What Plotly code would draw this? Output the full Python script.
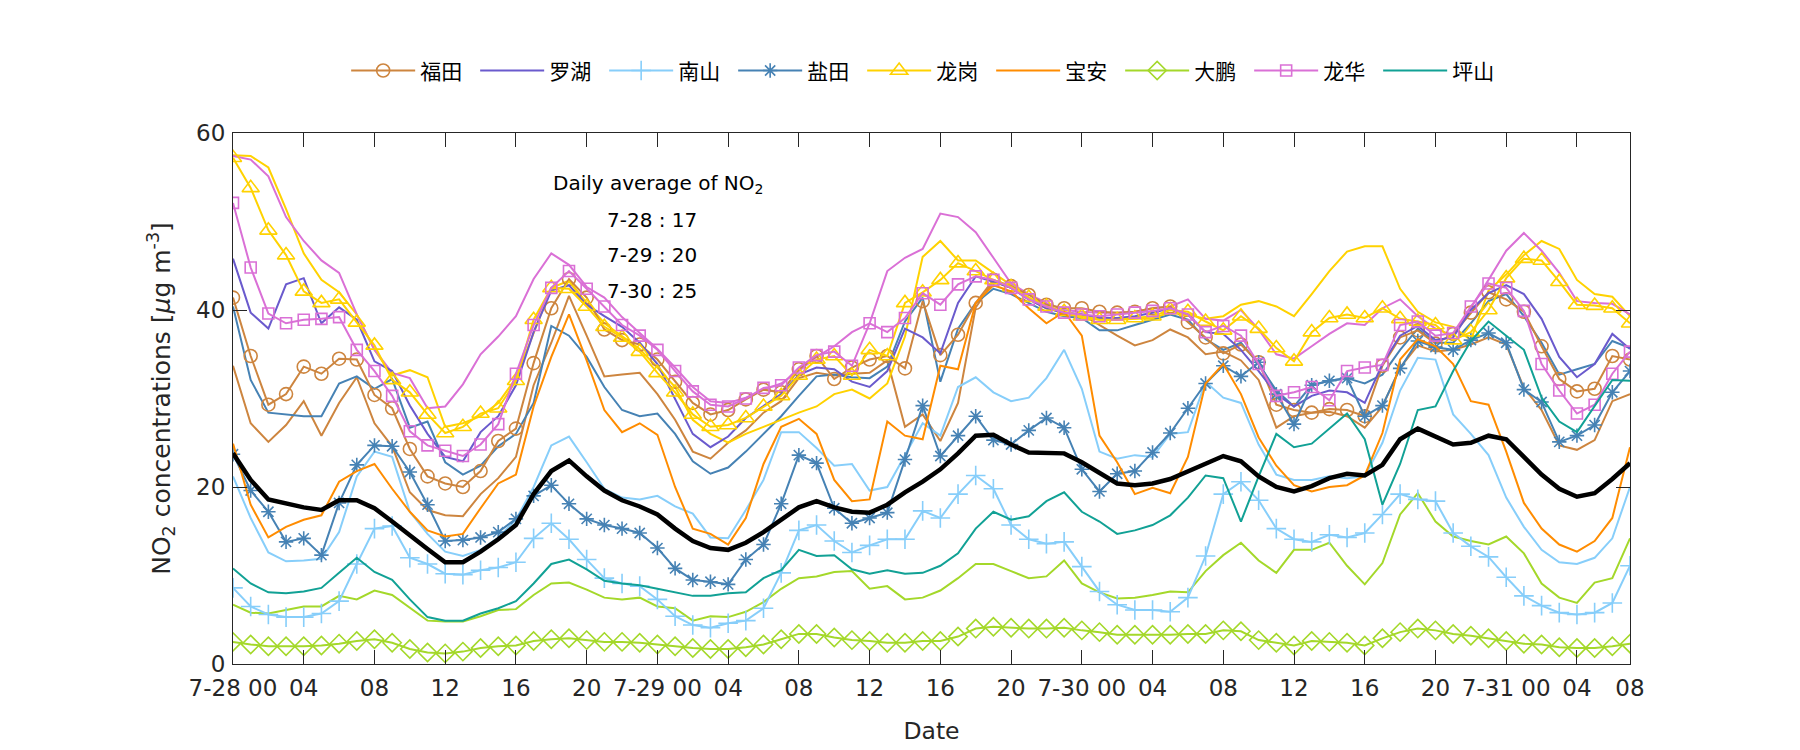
import plotly.graph_objects as go

hours = list(range(80))
tick_pos = [0, 4, 8, 12, 16, 20, 24, 28, 32, 36, 40, 44, 48, 52, 56, 60, 64, 68, 72, 76, 79]
tick_text = ["7-28 00", "04", "08", "12", "16", "20", "7-29 00", "04", "08", "12", "16", "20",
             "7-30 00", "04", "08", "12", "16", "20", "7-31 00", "04", "08"]
y_ticks = [0, 20, 40, 60]

daily_days = ["7-28", "7-29", "7-30"]
daily_vals = [17, 20, 25]

avg = [23.8,20.8,18.6,18.1,17.7,17.4,18.5,18.5,17.6,16.1,14.5,13.0,11.5,11.5,12.7,14.1,15.7,
       19.2,21.8,23.0,21.2,19.6,18.5,17.8,16.9,15.3,13.9,13.1,12.9,13.7,14.9,16.3,17.7,
       18.4,17.7,17.2,17.1,18.0,19.4,20.6,22.0,23.8,25.8,25.9,24.8,23.9,23.9,23.8,22.8,
       21.6,20.4,20.2,20.4,20.9,21.8,22.7,23.5,22.9,21.2,20.0,19.5,20.1,21.0,21.5,
       21.3,22.5,25.4,26.6,25.7,24.8,25.0,25.8,25.4,23.4,21.4,19.8,18.9,19.3,20.9,22.7]

futian = [41.4,34.8,29.3,30.5,33.6,32.8,34.5,34.4,30.4,28.9,24.3,21.2,20.4,20.0,21.8,25.2,26.6,
          34.0,40.2,43.5,41.4,37.8,36.6,36.1,34.4,31.9,29.5,28.2,28.7,29.9,31.0,30.7,33.3,
          34.8,32.2,33.5,34.4,34.8,33.4,41.0,34.9,37.2,40.8,43.4,42.7,41.7,40.6,40.2,40.2,
          39.8,39.7,39.8,40.2,40.4,38.6,36.9,35.1,36.1,34.1,29.3,28.7,28.4,28.8,28.7,
          28.0,33.7,36.9,37.7,36.2,37.3,39.7,42.0,41.2,39.8,35.9,32.2,30.8,31.1,34.8,34.4]

luohu = [45.8,39.7,37.9,42.9,43.6,38.5,40.3,38.9,34.2,33.1,29.2,26.0,23.4,22.9,26.2,28.0,31.5,
         37.5,42.2,42.8,40.6,39.3,38.1,36.3,33.9,30.0,26.0,24.5,25.7,27.8,29.1,30.5,32.7,
         33.5,33.3,31.9,31.3,33.1,37.9,36.9,35.1,40.8,43.8,43.2,42.5,41.2,40.2,39.7,39.5,
         39.1,39.1,39.3,39.7,40.2,39.5,37.5,37.3,35.5,33.1,30.5,29.1,30.3,30.9,30.7,
         29.5,33.9,37.1,38.2,36.6,36.9,40.0,41.9,42.8,41.8,39.0,34.7,32.4,33.9,37.3,35.6]

nanshan = [8.6,6.5,5.6,5.3,5.3,5.7,7.1,11.3,15.3,15.6,12.0,11.3,10.2,10.1,10.6,10.9,11.5,
           14.2,15.9,14.1,11.8,9.7,9.1,8.8,7.3,5.4,4.4,4.1,4.6,4.9,6.3,10.3,15.1,
           15.7,13.9,12.6,13.4,14.1,14.1,17.3,16.5,19.2,21.3,19.8,15.7,14.1,13.6,13.8,11.0,
           8.2,6.7,6.1,6.1,5.9,7.5,12.2,19.2,20.6,18.5,15.3,14.1,13.8,14.6,14.3,
           14.8,16.9,19.2,18.6,18.4,14.8,13.3,12.1,9.8,7.7,6.6,5.8,5.6,5.8,6.9,11.1]

yantian = [23.7,19.6,17.2,13.8,14.2,12.3,18.2,22.5,24.7,24.6,21.7,18.0,13.9,14.0,14.3,14.9,16.4,
           19.0,20.2,18.1,16.4,15.7,15.3,14.8,13.1,10.8,9.5,9.3,9.0,11.8,13.5,18.1,23.6,
           22.7,17.6,15.9,16.5,17.1,23.1,29.2,23.5,25.8,28.0,25.3,24.8,26.4,27.8,26.7,22.0,
           19.5,21.5,21.8,23.9,26.1,28.9,31.7,33.7,32.5,34.1,30.5,27.1,31.5,32.0,32.3,
           28.0,29.2,33.4,36.5,35.8,35.5,36.6,37.4,36.3,31.0,29.6,25.1,25.8,27.0,30.7,33.1]

longgang = [57.2,53.8,49.0,46.2,42.1,40.8,41.2,38.6,36.0,32.1,30.7,28.2,26.1,26.8,28.3,28.9,32.0,
            38.9,42.5,42.4,40.4,38.1,36.9,35.3,32.9,30.7,28.2,26.8,27.0,27.8,29.1,30.3,32.6,
            34.4,34.8,32.6,35.5,34.8,40.8,42.0,43.4,45.3,44.4,43.4,42.6,41.4,40.4,39.8,39.3,
            38.9,38.9,39.1,39.3,40.0,39.8,38.7,37.7,39.3,37.9,35.7,34.2,37.5,39.1,39.5,
            39.1,40.2,39.0,38.7,38.3,36.6,37.5,40.0,43.6,45.8,45.6,43.2,40.6,40.5,40.2,38.5]

baoan = [24.9,18.0,14.3,15.5,16.3,16.8,20.6,21.8,22.6,19.8,17.2,15.1,14.4,14.7,17.6,20.4,21.4,
         29.1,34.7,39.5,34.3,28.7,26.2,27.2,25.9,20.0,15.3,14.7,13.5,16.5,22.6,26.8,27.7,
         26.0,20.8,18.4,18.6,27.4,25.8,25.4,33.7,33.3,40.8,42.8,42.1,40.2,38.5,39.8,37.1,
         25.8,22.8,19.2,19.9,19.3,23.4,31.7,33.9,30.5,25.6,22.4,20.2,19.5,20.0,20.2,
         21.3,26.1,34.4,36.7,35.9,33.9,29.7,29.3,24.0,18.2,15.3,13.5,12.7,13.9,16.5,24.5]

dapeng = [2.5,2.2,2.0,2.0,2.0,2.1,2.3,2.6,2.8,2.4,1.7,1.3,1.2,1.4,1.8,2.0,2.1,
          2.6,2.8,2.9,2.7,2.5,2.5,2.4,2.2,2.0,1.8,1.7,1.7,1.9,2.2,2.8,3.4,
          3.4,3.0,2.7,2.6,2.4,2.4,2.6,2.6,3.1,4.0,4.2,4.1,4.0,4.0,4.1,3.8,
          3.6,3.3,3.3,3.3,3.3,3.4,3.4,3.8,3.7,2.7,2.4,2.1,2.6,2.5,2.4,
          2.1,2.9,3.6,4.0,3.8,3.4,3.2,2.9,2.6,2.3,2.2,1.9,1.8,1.8,2.0,2.3]

longhua = [52.1,44.8,39.6,38.5,38.9,39.0,39.2,35.5,33.1,30.3,26.3,24.7,24.1,23.5,24.8,27.1,32.8,
           38.3,42.5,44.4,42.4,40.4,38.3,37.1,35.5,33.1,30.8,29.3,29.1,30.0,31.2,31.5,33.5,
           34.9,35.3,33.7,38.5,37.5,39.1,41.9,40.6,42.9,43.8,43.4,42.5,41.2,40.4,39.7,39.5,
           39.3,39.5,39.7,39.9,40.2,39.5,37.5,38.2,37.1,33.9,30.3,30.7,31.3,29.8,33.1,
           33.5,33.8,38.3,38.7,37.1,37.4,40.4,43.0,42.5,39.9,33.9,30.9,28.3,29.3,32.8,35.3]

pingshan = [10.8,9.1,8.1,8.0,8.2,8.6,10.3,12.0,10.4,9.5,7.3,5.3,4.9,4.9,5.7,6.3,7.1,
            9.1,11.3,11.8,10.7,9.4,9.1,8.9,8.5,8.1,7.7,7.7,8.0,8.1,9.7,10.6,12.9,
            12.2,12.3,10.7,10.2,10.6,10.2,10.3,11.1,12.5,15.3,17.2,16.3,16.7,18.4,19.4,17.2,
            16.1,14.7,15.1,15.7,16.8,18.8,21.3,21.0,16.1,21.2,26.0,24.5,24.9,26.6,28.3,
            25.4,18.0,22.6,28.7,29.1,33.1,36.5,38.7,37.1,35.5,30.1,27.4,26.2,29.1,32.1,32.0]

futian_b = [33.7,27.2,25.1,27.0,29.7,25.8,29.5,32.4,27.2,24.6,19.4,17.4,16.8,16.7,19.2,21.0,23.4,
            31.5,36.3,41.6,37.1,32.5,32.7,32.9,30.5,27.6,24.0,23.2,25.0,26.4,28.4,29.7,32.3,
            32.9,32.6,32.8,32.9,34.3,26.8,28.2,25.2,29.5,40.3,43.2,42.5,41.2,40.2,39.7,39.5,
            38.3,37.1,36.0,36.6,37.8,36.9,35.0,35.3,34.3,32.1,26.7,28.0,28.4,28.5,28.0,
            26.7,29.1,33.5,36.0,35.3,35.5,36.1,36.9,36.1,31.2,28.7,24.7,24.2,25.3,29.7,30.5]

nanshan_b = [21.2,16.5,12.6,11.6,11.7,11.9,14.9,21.2,24.0,23.4,17.2,14.7,12.7,12.2,12.9,14.3,16.3,
             20.0,24.7,25.7,22.8,19.8,18.8,18.6,19.0,17.8,17.0,14.3,14.2,17.4,20.8,26.2,26.2,
             24.4,22.4,22.6,19.6,20.0,23.6,27.2,25.8,31.3,32.4,30.7,29.7,30.1,32.3,35.5,31.1,
             24.0,23.2,23.6,23.4,26.0,26.2,31.9,30.1,29.5,24.8,21.4,20.8,20.8,21.2,21.0,
             21.2,25.0,30.9,34.6,34.4,28.2,26.0,23.6,18.8,15.5,12.9,11.5,11.3,12.0,14.2,20.0]

yantian_b = [40.4,32.1,28.4,28.2,28.0,28.0,31.7,32.5,31.1,32.2,26.7,27.4,22.8,21.4,22.4,24.6,26.0,
             29.5,38.2,37.1,34.7,31.3,28.7,28.0,28.3,26.0,22.9,21.5,22.2,24.0,26.0,28.0,30.3,
             32.5,32.7,32.4,32.3,33.6,38.7,41.4,31.9,37.9,40.8,42.4,41.8,40.8,39.8,39.3,39.1,
             37.7,37.7,38.3,38.9,39.5,38.9,36.7,35.5,36.3,33.9,30.9,29.1,31.5,32.0,32.3,
             31.7,32.7,35.5,37.9,36.3,36.3,38.5,41.0,41.8,39.3,36.3,32.7,33.3,33.9,36.5,35.7]

longgang_b = [57.5,57.4,56.1,51.4,46.4,43.4,42.0,39.5,35.5,32.6,33.2,32.4,26.8,27.2,28.0,29.5,32.3,
              37.5,42.5,43.3,40.8,38.5,37.1,35.6,33.5,31.3,27.6,26.0,25.0,26.0,26.8,27.6,28.4,
              29.1,30.5,31.0,30.0,31.7,37.0,46.0,47.8,45.6,45.6,44.2,42.8,41.4,40.4,39.8,39.1,
              38.9,38.9,39.0,39.1,39.7,39.5,39.0,39.3,40.6,41.0,40.4,39.3,41.8,44.4,46.6,
              47.2,47.2,42.4,39.8,38.6,38.1,36.6,42.2,44.0,46.2,47.8,46.9,43.4,41.8,41.5,39.3]

dapeng_b = [6.7,5.8,5.7,6.1,6.5,6.5,7.7,7.3,8.3,7.8,6.3,4.9,4.8,4.8,5.4,6.1,6.2,
            7.8,9.1,9.2,8.4,7.5,7.3,7.5,6.5,6.3,4.9,5.4,5.3,5.9,7.0,8.5,9.7,
            9.9,10.4,10.5,8.5,8.8,7.3,7.5,8.3,9.7,11.3,11.3,10.5,9.7,9.9,11.7,9.1,
            8.1,7.4,7.5,7.8,8.2,8.1,10.5,12.3,13.7,11.7,10.3,12.9,12.9,13.7,11.1,
            9.0,11.4,16.9,19.3,16.1,14.4,13.9,13.5,14.4,12.5,9.1,7.5,6.9,9.2,9.7,14.2]

longhua_b = [57.4,57.0,55.1,50.5,47.8,45.6,44.2,39.5,35.5,32.9,32.3,28.9,29.1,31.6,35.0,37.0,39.3,
             43.5,46.4,45.1,42.6,41.4,39.2,37.4,35.6,33.5,31.3,29.7,29.5,30.1,31.0,31.7,33.1,
             34.7,35.9,37.5,38.5,44.4,45.9,46.9,50.9,50.5,48.8,45.9,43.0,41.8,40.8,40.0,39.8,
             39.7,39.7,39.8,40.2,40.4,41.2,39.0,38.8,40.0,37.8,35.0,34.5,35.9,37.3,38.5,
             38.3,40.2,41.2,39.3,37.9,37.1,40.2,43.4,46.7,48.7,46.7,44.2,41.0,40.8,40.7,39.5]

names = ["福田", "罗湖", "南山", "盐田", "龙岗", "宝安", "大鹏", "龙华", "坪山"]
series = [futian, luohu, nanshan, yantian, longgang, baoan, dapeng, longhua, pingshan]
colors = ["#CD853F", "#6A5ACD", "#87CEFA", "#4682B4", "#FFD200", "#FF8C00", "#A4D82A", "#DA70D6", "#11A195"]
symbols = ["circle-open", None, "cross-thin-open", "asterisk-open", "triangle-up-open", None,
           "diamond-open", "square-open", None]
msizes = [13, 0, 14, 12, 15, 0, 14, 11, 0]

extra = [(futian_b, 0), (nanshan_b, 2), (yantian_b, 3), (longgang_b, 4), (dapeng_b, 6), (longhua_b, 7)]

FONT = "DejaVu Sans, Noto Sans CJK SC"
fig = go.Figure()

for vals, ci in extra:
    fig.add_trace(go.Scatter(x=hours, y=vals, mode="lines", showlegend=False,
                             line=dict(color=colors[ci], width=2), hoverinfo="skip"))

for name, vals, c, s, ms in zip(names, series, colors, symbols, msizes):
    if s is None:
        fig.add_trace(go.Scatter(x=hours, y=vals, mode="lines", name=name,
                                 line=dict(color=c, width=2)))
    else:
        fig.add_trace(go.Scatter(x=hours, y=vals, mode="lines+markers", name=name,
                                 line=dict(color=c, width=2),
                                 marker=dict(symbol=s, size=ms, color=c, line=dict(color=c, width=1.6))))

fig.add_trace(go.Scatter(x=hours, y=avg, mode="lines", showlegend=False,
                         line=dict(color="black", width=4.5)))

annotations = [dict(x=18.0, y=54.2, xref="x", yref="y", xanchor="left", yanchor="middle",
                    text="Daily average of NO<sub>2</sub>", showarrow=False,
                    font=dict(family=FONT, size=20, color="black"))]
for i, (d, v) in enumerate(zip(daily_days, daily_vals)):
    annotations.append(dict(x=23.7, y=50.2 - 4.0 * i, xref="x", yref="y", xanchor="center",
                            yanchor="middle", text=f"{d} : {v}", showarrow=False,
                            font=dict(family=FONT, size=20, color="black")))

axis_common = dict(showline=True, linecolor="#262626", linewidth=1, mirror="ticks",
                   ticks="inside", ticklen=14, tickcolor="#262626", tickwidth=1,
                   showgrid=False, zeroline=False, automargin=False,
                   tickfont=dict(family=FONT, size=23, color="#262626"))

fig.update_layout(
    width=1800, height=750,
    margin=dict(l=225, r=178, t=125, b=94),
    paper_bgcolor="white", plot_bgcolor="white",
    xaxis=dict(range=[0, 79], tickmode="array", tickvals=tick_pos, ticktext=tick_text,
               ticklabelstandoff=3,
               title=dict(text="Date", font=dict(family=FONT, size=23.5, color="#262626"), standoff=22),
               **axis_common),
    yaxis=dict(range=[0, 60], tickmode="array", tickvals=y_ticks,
               ticklabelstandoff=2,
               title=dict(text="NO<sub>2</sub> concentrations [<i>μ</i>g m<sup>-3</sup>]",
                          font=dict(family=FONT, size=25, color="#262626"), standoff=18),
               **axis_common),
    legend=dict(orientation="h", x=0.081, xanchor="left", y=1.117, yanchor="middle",
                font=dict(family="Noto Sans CJK SC", size=21, color="black"),
                itemwidth=64, entrywidth=50, entrywidthmode="pixels", bgcolor="rgba(0,0,0,0)"),
    annotations=annotations,
    showlegend=True,
)

fig.write_html("out.html")
